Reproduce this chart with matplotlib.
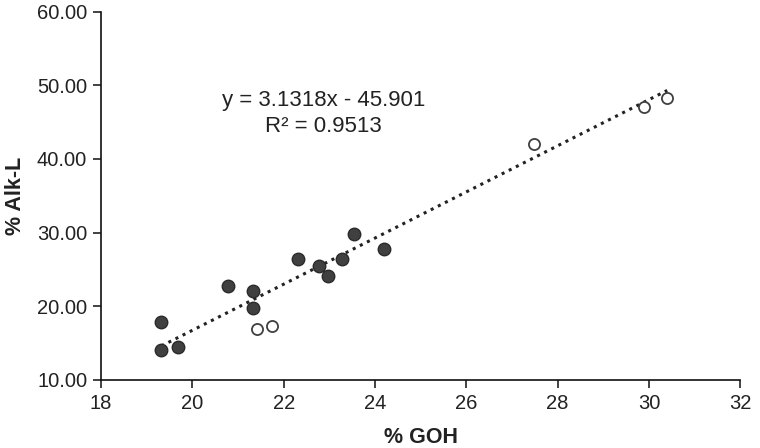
import matplotlib

matplotlib.use("Agg")
import matplotlib.pyplot as plt
import numpy as np

plt.rcParams["font.family"] = ["Liberation Sans", "DejaVu Sans"]

# filled series
goh_filled = [19.32, 19.69, 19.32, 20.79, 21.33, 21.33, 22.32, 22.77, 22.96, 23.28, 23.53, 24.20]
alk_filled = [14.08, 14.50, 17.80, 22.77, 22.10, 19.74, 26.44, 25.53, 24.17, 26.40, 29.84, 27.76]
# open series
goh_open = [21.41, 21.75, 27.48, 29.89, 30.40]
alk_open = [16.89, 17.38, 42.07, 47.10, 48.26]

SLOPE = 3.1318
INTERCEPT = -45.901
R2 = 0.9513

x_ticks = [18, 20, 22, 24, 26, 28, 30, 32]
y_ticks = [10, 20, 30, 40, 50, 60]

fig = plt.figure(figsize=(7.6, 4.48), dpi=100, facecolor="white")
ax = fig.add_axes([0.133, 0.152, 0.841, 0.822])

all_x = np.array(goh_filled + goh_open)
xx = np.array([all_x.min(), all_x.max()])
ax.plot(xx, SLOPE * xx + INTERCEPT, linestyle=(0, (1, 1.6)), color="#222222", linewidth=2.2, zorder=2)

ax.plot(goh_filled, alk_filled, "o", ms=9, mfc="#404040", mec="#2a2a2a", mew=1.0, zorder=3)
ax.plot(goh_open, alk_open, "o", ms=8, mfc="white", mec="#404040", mew=1.3, zorder=3)

ax.text(22.87, 48.0, f"y = {SLOPE}x - {abs(INTERCEPT)}", ha="center", va="center", fontsize=16, color="#222222")
ax.text(22.87, 44.4, f"R² = {R2}", ha="center", va="center", fontsize=16, color="#222222")

ax.set_xlim(18, 32)
ax.set_ylim(10, 60)
ax.set_xticks(x_ticks)
ax.set_yticks(y_ticks)
ax.set_yticklabels([f"{v:.2f}" for v in y_ticks])
ax.tick_params(direction="out", length=6, width=1.2, labelsize=14.5, colors="#222222", pad=4)
for side in ("top", "right"):
    ax.spines[side].set_visible(False)
for side in ("left", "bottom"):
    ax.spines[side].set_linewidth(1.2)
    ax.spines[side].set_color("#111111")

ax.set_xlabel("% GOH", fontsize=15.5, fontweight="bold", color="#222222", labelpad=10)
ax.set_ylabel("% Alk-L", fontsize=15.5, fontweight="bold", color="#222222", labelpad=8)

fig.savefig("out.png", dpi=100, facecolor="white")
